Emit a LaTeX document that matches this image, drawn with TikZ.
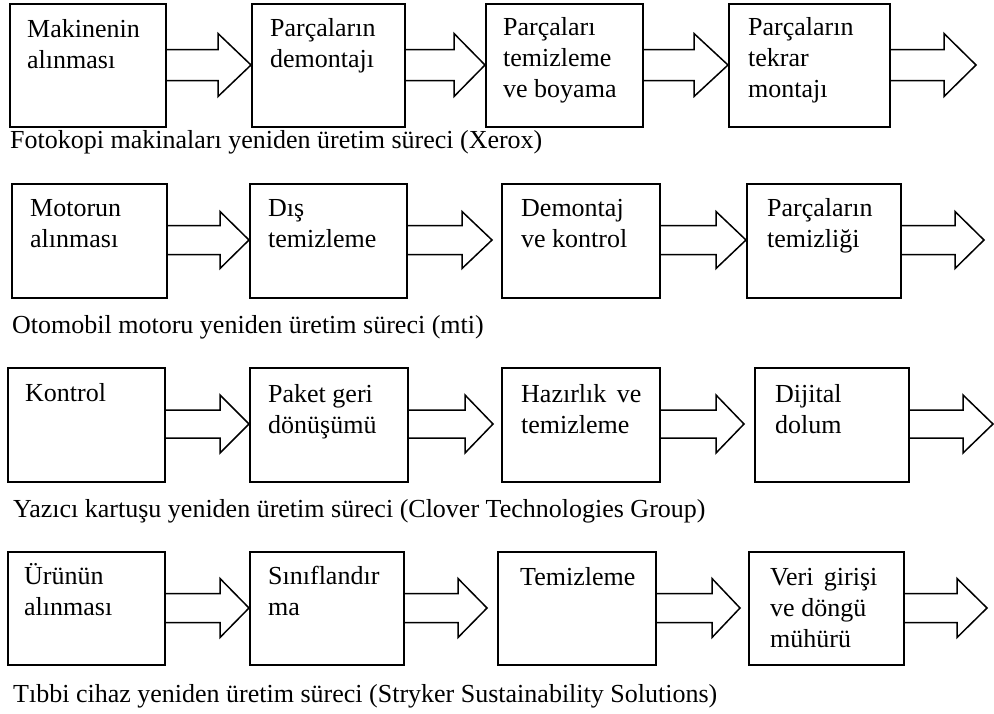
\documentclass[tikz,border=0pt]{standalone}
\usepackage{fontspec}
\setmainfont{Liberation Serif}
\newcommand{\boxlines}[1]{\begin{tabular}[t]{@{}l@{}}#1\end{tabular}}
% block arrow: #1 start node, #2 head base x, #3 tip point, #4 centre y, #5 shaft half height, #6 head half height
\newcommand{\blockarrow}[6]{%
  \draw[flow] (#1.east |- 0,{#4-#5}) -- (#2,{#4-#5}) -- (#2,{#4-#6})
    -- (#3 |- 0,#4) -- (#2,{#4+#6}) -- (#2,{#4+#5}) -- (#1.east |- 0,{#4+#5});}
\begin{document}
\begin{tikzpicture}[x=1pt,y=-1pt,
  stepbox/.style={draw, line width=1.5pt, inner sep=0pt, anchor=north west},
  lbl/.style={anchor=base west, inner sep=0pt, font=\fontsize{26}{31}\selectfont},
  captext/.style={anchor=base west, inner sep=0pt, font=\fontsize{26}{31}\selectfont},
  flow/.style={draw, line width=1.5pt, line join=miter}]
\useasboundingbox (0,0) rectangle (994,713);

% ---- row 1: photocopier remanufacturing
\node[stepbox, minimum width=156pt, minimum height=123pt] (r1b1) at (9,3) {};
\node[stepbox, minimum width=153pt, minimum height=123pt] (r1b2) at (251,3) {};
\node[stepbox, minimum width=157pt, minimum height=123pt] (r1b3) at (485,3) {};
\node[stepbox, minimum width=161pt, minimum height=123pt] (r1b4) at (728,3) {};
\node[lbl] (r1t1) at (27,37) {\boxlines{Makinenin\\alınması}};
\node[lbl] (r1t2) at (270,36) {\boxlines{Parçaların\\demontajı}};
\node[lbl] (r1t3) at (503,35) {\boxlines{Parçaları\\temizleme\\ve boyama}};
\node[lbl] (r1t4) at (748,35) {\boxlines{Parçaların\\tekrar\\montajı}};
\coordinate (r1end) at (976,65);
\blockarrow{r1b1}{218}{r1b2.west}{65}{15.5}{31.5}
\blockarrow{r1b2}{454}{r1b3.west}{65}{15.5}{31.5}
\blockarrow{r1b3}{694}{r1b4.west}{65}{15.5}{31.5}
\blockarrow{r1b4}{944}{r1end}{65}{15.5}{31.5}
\node[captext] (r1cap) at (10,148) {Fotokopi makinaları yeniden üretim süreci (Xerox)};

% ---- row 2: engine remanufacturing
\node[stepbox, minimum width=155pt, minimum height=114pt] (r2b1) at (11,183) {};
\node[stepbox, minimum width=157pt, minimum height=114pt] (r2b2) at (249,183) {};
\node[stepbox, minimum width=158pt, minimum height=114pt] (r2b3) at (501,183) {};
\node[stepbox, minimum width=154pt, minimum height=114pt] (r2b4) at (746,183) {};
\node[lbl] (r2t1) at (30,216) {\boxlines{Motorun\\alınması}};
\node[lbl] (r2t2) at (268,216) {\boxlines{Dış\\temizleme}};
\node[lbl] (r2t3) at (521,216) {\boxlines{Demontaj\\ve kontrol}};
\node[lbl] (r2t4) at (767,216) {\boxlines{Parçaların\\temizliği}};
\coordinate (r2mid) at (492,240);
\coordinate (r2end) at (984,240);
\blockarrow{r2b1}{220}{r2b2.west}{240}{14.5}{28.5}
\blockarrow{r2b2}{462}{r2mid}{240}{14.5}{28.5}
\blockarrow{r2b3}{716}{r2b4.west}{240}{14.5}{28.5}
\blockarrow{r2b4}{955}{r2end}{240}{14.5}{28.5}
\node[captext] (r2cap) at (12,333) {Otomobil motoru yeniden üretim süreci (mti)};

% ---- row 3: printer cartridge remanufacturing
\node[stepbox, minimum width=157pt, minimum height=114pt] (r3b1) at (7,367) {};
\node[stepbox, minimum width=158pt, minimum height=114pt] (r3b2) at (249,367) {};
\node[stepbox, minimum width=158pt, minimum height=114pt] (r3b3) at (501,367) {};
\node[stepbox, minimum width=154pt, minimum height=114pt] (r3b4) at (754,367) {};
\node[lbl] (r3t1) at (25,401) {Kontrol};
\node[lbl] (r3t2) at (268,402) {\boxlines{Paket geri\\dönüşümü}};
\node[lbl] (r3t3) at (521,402) {\boxlines{Hazırlık\hspace{0.4em}ve\\temizleme}};
\node[lbl] (r3t4) at (775,402) {\boxlines{Dijital\\dolum}};
\coordinate (r3mid) at (493,424);
\coordinate (r3mid2) at (744,424);
\coordinate (r3end) at (993,424);
\blockarrow{r3b1}{220}{r3b2.west}{424}{14}{29}
\blockarrow{r3b2}{465}{r3mid}{424}{14}{29}
\blockarrow{r3b3}{716}{r3mid2}{424}{14}{29}
\blockarrow{r3b4}{963}{r3end}{424}{14}{29}
\node[captext] (r3cap) at (13,517) {Yazıcı kartuşu yeniden üretim süreci (Clover Technologies Group)};

% ---- row 4: medical device remanufacturing
\node[stepbox, minimum width=157pt, minimum height=113pt] (r4b1) at (7,551) {};
\node[stepbox, minimum width=154pt, minimum height=113pt] (r4b2) at (249,551) {};
\node[stepbox, minimum width=158pt, minimum height=113pt] (r4b3) at (497,551) {};
\node[stepbox, minimum width=155pt, minimum height=113pt] (r4b4) at (748,551) {};
\node[lbl] (r4t1) at (24,584) {\boxlines{Ürünün\\alınması}};
\node[lbl] (r4t2) at (268,584) {\boxlines{Sınıflandır\\ma}};
\node[lbl] (r4t3) at (520,585) {Temizleme};
\node[lbl] (r4t4) at (770,585) {\boxlines{Veri\hspace{0.4em}girişi\\ve döngü\\mühürü}};
\coordinate (r4mid) at (487,608);
\coordinate (r4mid2) at (740,608);
\coordinate (r4end) at (987,608);
\blockarrow{r4b1}{220}{r4b2.west}{608}{14.5}{29.5}
\blockarrow{r4b2}{458}{r4mid}{608}{14.5}{29.5}
\blockarrow{r4b3}{712}{r4mid2}{608}{14.5}{29.5}
\blockarrow{r4b4}{957}{r4end}{608}{14.5}{29.5}
\node[captext] (r4cap) at (13,702) {Tıbbi cihaz yeniden üretim süreci (Stryker Sustainability Solutions)};
\end{tikzpicture}
\end{document}
